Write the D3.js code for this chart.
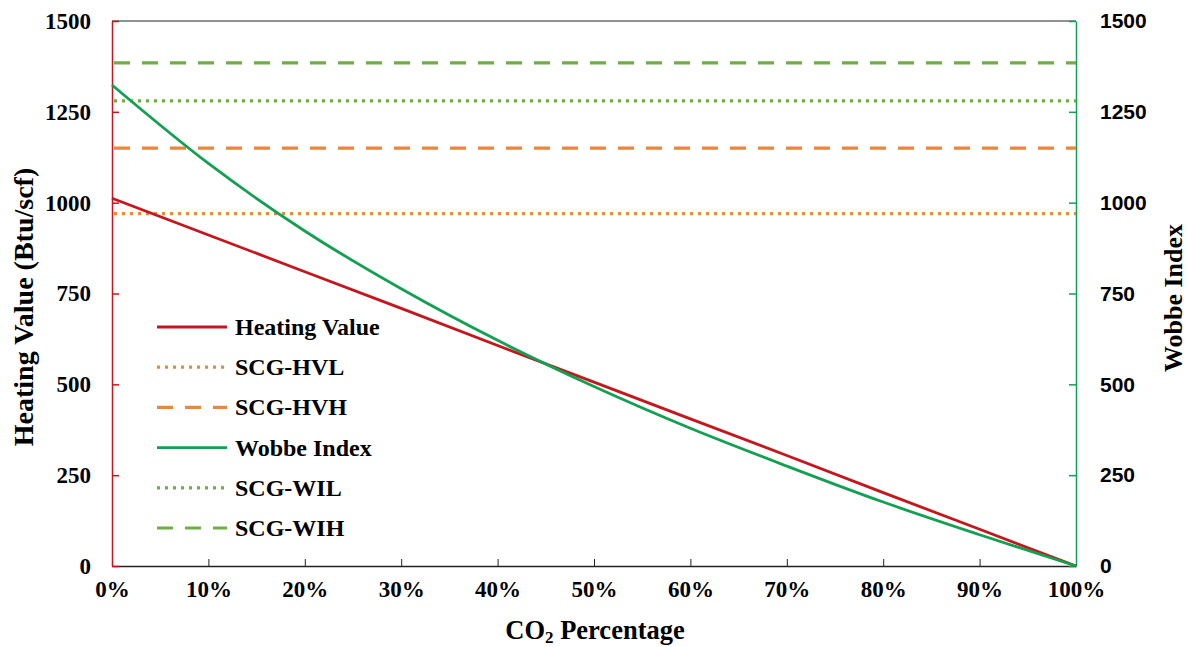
<!DOCTYPE html>
<html>
<head>
<meta charset="utf-8">
<script src="https://cdn.jsdelivr.net/npm/d3@7"></script>
<style>
  body { margin: 0; background: #fff; }
  svg text { font-family: "Liberation Serif", "Times New Roman", serif; font-weight: bold; fill: #000; }
</style>
</head>
<body>
<div id="chart"></div>
<script>
// data
let co2Pct = [0, 10, 20, 30, 40, 50, 60, 70, 80, 90, 100];
let heatingValue = [1012, 911, 810, 709, 607, 506, 405, 304, 202, 101, 0];
let wobbeIndex = [1324, 1108, 922, 763, 621, 494, 379, 275, 176, 86, 0];
let limitNames = ["SCG-HVL", "SCG-HVH", "SCG-WIL", "SCG-WIH"];
let limitValues = [970, 1150, 1280, 1385];
let yTicks = [0, 250, 500, 750, 1000, 1250, 1500];
let xTicks = [0, 10, 20, 30, 40, 50, 60, 70, 80, 90, 100];

let width = 1187, height = 647;
let margin = {left: 112, right: 111, top: 21, bottom: 81};

let red = "#c4161c", green = "#13a052", orange = "#e8883f", lgreen = "#70ad47";

let svg = d3.select("#chart")
    .append("svg")
    .attr("width", width)
    .attr("height", height);

let x = d3.scaleLinear()
    .domain([0, 100])
    .range([margin.left, width - margin.right]);

let yL = d3.scaleLinear()
    .domain([0, 1500])
    .range([height - margin.bottom, margin.top]);

let yR = d3.scaleLinear()
    .domain([0, 1500])
    .range([height - margin.bottom, margin.top]);

// top border
svg.append("line")
    .attr("x1", x(0)).attr("x2", x(100))
    .attr("y1", yL(1500)).attr("y2", yL(1500))
    .attr("stroke", "#222").attr("stroke-width", 1);

// x axis
let xAxis = svg.append("g")
    .attr("transform", `translate(0, ${yL(0)})`)
    .call(d3.axisBottom(x).tickValues(xTicks).tickSizeInner(-7).tickSizeOuter(0)
        .tickPadding(15).tickFormat(d => d + "%"));
xAxis.select(".domain").attr("stroke", "#222").attr("stroke-width", 1.3);
xAxis.selectAll(".tick line").attr("stroke", "#222");
xAxis.selectAll("text")
    .style("font-family", "Liberation Serif").style("font-size", "23px").style("font-weight", "bold");

// left axis
let leftAxis = svg.append("g")
    .attr("transform", `translate(${margin.left}, 0)`)
    .call(d3.axisLeft(yL).tickValues(yTicks).tickSizeInner(-7).tickSizeOuter(0)
        .tickPadding(21).tickFormat(d3.format("d")));
leftAxis.select(".domain").attr("stroke", red).attr("stroke-width", 1.5);
leftAxis.selectAll(".tick line").attr("stroke", red).attr("stroke-width", 1.5);
leftAxis.selectAll("text")
    .style("font-family", "Liberation Serif").style("font-size", "23px").style("font-weight", "bold");

// right axis
let rightAxis = svg.append("g")
    .attr("transform", `translate(${width - margin.right}, 0)`)
    .call(d3.axisRight(yR).tickValues(yTicks).tickSizeInner(-7).tickSizeOuter(0)
        .tickPadding(24).tickFormat(d3.format("d")));
rightAxis.select(".domain").attr("stroke", green).attr("stroke-width", 1.5);
rightAxis.selectAll(".tick line").attr("stroke", green).attr("stroke-width", 1.5);
rightAxis.selectAll("text")
    .style("font-family", "Liberation Sans").style("font-size", "21px").style("font-weight", "bold");

// limit lines
let limitStyle = [
    {color: orange, dash: "3,5", axis: yL},
    {color: orange, dash: "16,12", axis: yL},
    {color: lgreen, dash: "3,5", axis: yR},
    {color: lgreen, dash: "16,12", axis: yR}
];
limitValues.forEach(function(v, i) {
    svg.append("line")
        .attr("x1", x(0) + 2).attr("x2", x(100))
        .attr("y1", limitStyle[i].axis(v)).attr("y2", limitStyle[i].axis(v))
        .attr("stroke", limitStyle[i].color)
        .attr("stroke-width", 3.2)
        .attr("stroke-dasharray", limitStyle[i].dash);
});

// main series
svg.append("path")
    .datum(co2Pct)
    .attr("fill", "none")
    .attr("stroke", red)
    .attr("stroke-width", 2.8)
    .attr("d", d3.line()
        .x(function(d) { return x(d); })
        .y(function(d, i) { return yL(heatingValue[i]); }));

svg.append("path")
    .datum(co2Pct)
    .attr("fill", "none")
    .attr("stroke", green)
    .attr("stroke-width", 2.8)
    .attr("d", d3.line()
        .curve(d3.curveMonotoneX)
        .x(function(d) { return x(d); })
        .y(function(d, i) { return yR(wobbeIndex[i]); }));

// legend
let legendItems = [
    {name: "Heating Value", color: red, dash: null},
    {name: limitNames[0], color: orange, dash: "3,5"},
    {name: limitNames[1], color: orange, dash: "16,12"},
    {name: "Wobbe Index", color: green, dash: null},
    {name: limitNames[2], color: lgreen, dash: "3,5"},
    {name: limitNames[3], color: lgreen, dash: "16,12"}
];
let legend = svg.append("g");
legendItems.forEach(function(d, i) {
    let ly = 327 + i * 40.2;
    legend.append("line")
        .attr("x1", 157).attr("x2", 227)
        .attr("y1", ly).attr("y2", ly)
        .attr("stroke", d.color)
        .attr("stroke-width", d.dash ? 3.2 : 2.8)
        .attr("stroke-dasharray", d.dash);
    legend.append("text")
        .attr("x", 235).attr("y", ly + 8)
        .style("font-size", "24px")
        .text(d.name);
});

// axis titles
let xt = svg.append("text")
    .attr("x", (x(0) + x(100)) / 2 + 1).attr("y", 639)
    .style("text-anchor", "middle")
    .style("font-size", "26.5px");
xt.append("tspan").text("CO");
xt.append("tspan").attr("dy", 4).style("font-size", "17px").text("2");
xt.append("tspan").attr("dy", -4).text(" Percentage");

svg.append("text")
    .attr("transform", `translate(33, 307) rotate(-90)`)
    .style("text-anchor", "middle")
    .style("font-size", "28px")
    .text("Heating Value (Btu/scf)");

svg.append("text")
    .attr("transform", `translate(1182, 298) rotate(-90)`)
    .style("text-anchor", "middle")
    .style("font-size", "26px")
    .text("Wobbe Index");
</script>
</body>
</html>
